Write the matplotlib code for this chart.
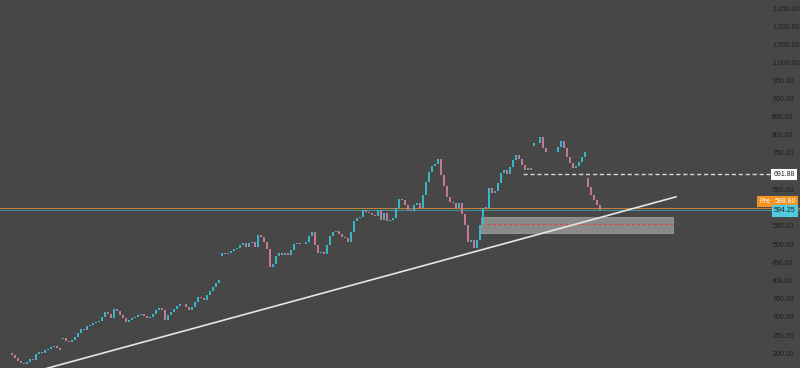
import matplotlib
matplotlib.use("Agg")
import matplotlib.pyplot as plt
import matplotlib.transforms as mtransforms
from matplotlib.patches import Rectangle

# ---- data ----
closes = [
    195, 187, 179, 174, 171, 176, 184, 182, 198, 204, 201, 209, 212, 217, 219, 215, 209,
    242, 234, 232, 236, 245, 256, 267, 265, 274, 278, 283, 286, 290, 300, 313, 308, 297,
    322, 315, 305, 297, 286, 291, 297, 300, 305, 309, 302, 297, 300, 308, 318, 323, 319,
    291, 305, 314, 322, 330, 335, 334, 326, 320, 328, 342, 355, 353, 345, 360, 371, 381,
    393, 401,
    475, 473, 474, 480, 485, 489, 497, 503, 491, 503, 506, 493, 525, 518, 506, 486, 438,
    445, 466, 474, 471, 474, 470, 484, 500, 503, 499, 500, 506, 522, 533, 497, 475, 478,
    473, 497, 522, 534, 537, 527, 519, 516, 506, 533, 563, 571, 575, 594, 589, 586, 581,
    577, 594, 567, 585, 563, 565, 571, 599, 624, 622, 607, 594, 592, 606, 612, 599, 634,
    670, 698, 714, 721, 733, 689, 659, 629, 616, 613, 599, 612, 582, 552, 506, 511, 490,
    511, 552, 599, 600, 654, 640, 646, 667, 695, 703, 692, 712, 731, 744, 733, 717, 703,
    709, 703,
    776, 777, 794, 764, 752, 754, 752, 753, 767, 783, 764, 738, 722, 709, 714, 724, 739,
    753,
    657, 635, 621, 607, 594.25,
]
first_open = 200
gap_opens = {17: 240, 70: 468, 174: 768, 192: 680}

y_ticks = list(range(200, 1151, 50))
hidden_ticks = [600, 700]          # covered by the price labels in the reference
ylim = (159.6, 1170.0)

level_resistance = 691.88
level_pre = 598.80
level_last = 594.25
zone_top, zone_bottom, zone_mid = 575.1, 529.5, 554.2
zone_x = (156.3, 220.3)
trend_pts = ([10, 221.3], [155.0, 629.5])
resist_x = (170.3, 252.7)

# ---- figure ----
BG = "#474747"
UP = "#38b6c8"
DOWN = "#c27b93"
FONT = ["Liberation Sans", "DejaVu Sans"]

fig = plt.figure(figsize=(8, 3.68), dpi=100, facecolor=BG)
ax = fig.add_axes([0, 0, 1, 1], facecolor=BG)

n = len(closes)
xs = list(range(n))
opens = []
for i in range(n):
    if i == 0:
        opens.append(first_open)
    elif i in gap_opens:
        opens.append(gap_opens[i])
    else:
        opens.append(closes[i - 1])

cols = [UP if c >= o else DOWN for o, c in zip(opens, closes)]
heights = [max(abs(c - o), 1.5) for o, c in zip(opens, closes)]
bottoms = [min(o, c) for o, c in zip(opens, closes)]
ax.bar(xs, heights, bottom=bottoms, width=0.65, color=cols, linewidth=0, zorder=3)

# trendline
ax.plot(trend_pts[0], trend_pts[1], color="#e6e6e6", lw=1.2, zorder=4)

# demand zone
ax.add_patch(Rectangle((zone_x[0], zone_bottom), zone_x[1] - zone_x[0],
                       zone_top - zone_bottom, facecolor="#8a8a8a",
                       edgecolor="#9c9c9c", lw=0.6, zorder=2))
ax.plot(zone_x, [zone_mid, zone_mid], color="#d94848", lw=0.8,
        dashes=(3, 2), zorder=2.6)

# price lines
ax.axhline(level_pre, color="#b98338", lw=0.8, zorder=1.5)
ax.axhline(level_last, color="#3d8e98", lw=0.8, zorder=1.5)
ax.plot(resist_x, [level_resistance] * 2, color="#d8d8d8", lw=1.0,
        dashes=(3, 2), zorder=2.6)

ax.set_xlim(-4, 262.67)
ax.set_ylim(*ylim)

fs = 5.0
ax.yaxis.tick_right()
ax.set_yticks(y_ticks)
ax.set_yticklabels(["" if v in hidden_ticks else f"{v:,.2f}" for v in y_ticks],
                   family=FONT)
ax.tick_params(axis="y", length=0, pad=-20, labelsize=fs, labelcolor="#1e1e1e")
ax.tick_params(axis="x", length=0, labelbottom=False)
for s in ax.spines.values():
    s.set_visible(False)

tr = mtransforms.blended_transform_factory(ax.transAxes, ax.transData)
box_pad = 0.15
ax.text(784 / 800, level_resistance, "691.88", transform=tr, ha="center",
        va="center", fontsize=fs, color="#222222", zorder=6, family=FONT,
        bbox=dict(boxstyle=f"square,pad={box_pad}", facecolor="#ffffff",
                  edgecolor="#ffffff", lw=1.5))
ax.text(764.5 / 800, level_pre + 17.5, "Pre", transform=tr, ha="center",
        va="center", fontsize=fs, color="#ffffff", zorder=6, family=FONT,
        bbox=dict(boxstyle=f"square,pad={box_pad}", facecolor="#f39322",
                  edgecolor="#f39322", lw=1.5))
ax.text(785 / 800, level_pre + 17.5, "598.80", transform=tr, ha="center",
        va="center", fontsize=fs, color="#ffffff", zorder=6, family=FONT,
        bbox=dict(boxstyle=f"square,pad={box_pad}", facecolor="#f39322",
                  edgecolor="#f39322", lw=1.5))
ax.text(785 / 800, level_last - 3.5, "594.25", transform=tr, ha="center",
        va="center", fontsize=fs, color="#222222", zorder=6, family=FONT,
        bbox=dict(boxstyle=f"square,pad={box_pad}", facecolor="#4fcbe0",
                  edgecolor="#4fcbe0", lw=1.5))

fig.savefig("out.png", dpi=100, facecolor=BG)
